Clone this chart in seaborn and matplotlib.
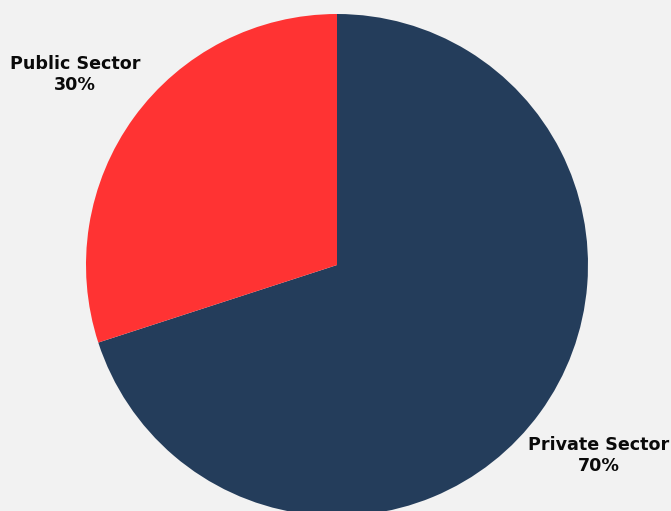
import matplotlib
matplotlib.use("Agg")
import matplotlib.pyplot as plt
import seaborn as sns

# Workforce split by sector
sectors = ["Private Sector", "Public Sector"]
shares = [70, 30]
colors = ["#243D5B", "#FF3333"]

sns.set_style("white")
plt.rcParams["font.family"] = ["DejaVu Sans"]

W, H = 671, 511
fig = plt.figure(figsize=(W / 100, H / 100), dpi=100, facecolor="#F2F2F2")
ax = fig.add_axes([0, 0, 1, 1])
ax.set_facecolor("#F2F2F2")

labels = [f"{s}\n{v}%" for s, v in zip(sectors, shares)]
wedges, texts = ax.pie(
    shares,
    labels=labels,
    colors=colors,
    startangle=90,
    counterclock=False,
    center=(337, H - 265),
    radius=251,
    labeldistance=1.29,
    wedgeprops=dict(linewidth=0),
    textprops=dict(fontsize=12.6, fontweight="bold", color="#0A0A0A", linespacing=1.2),
    frame=False,
)
for t in texts:
    t.set_horizontalalignment("center")
    t.set_verticalalignment("center")
    t.set_multialignment("center")

ax.set_xlim(0, W)
ax.set_ylim(0, H)
ax.set_aspect("equal")
ax.axis("off")

fig.savefig("out.png", dpi=100, facecolor=fig.get_facecolor())
